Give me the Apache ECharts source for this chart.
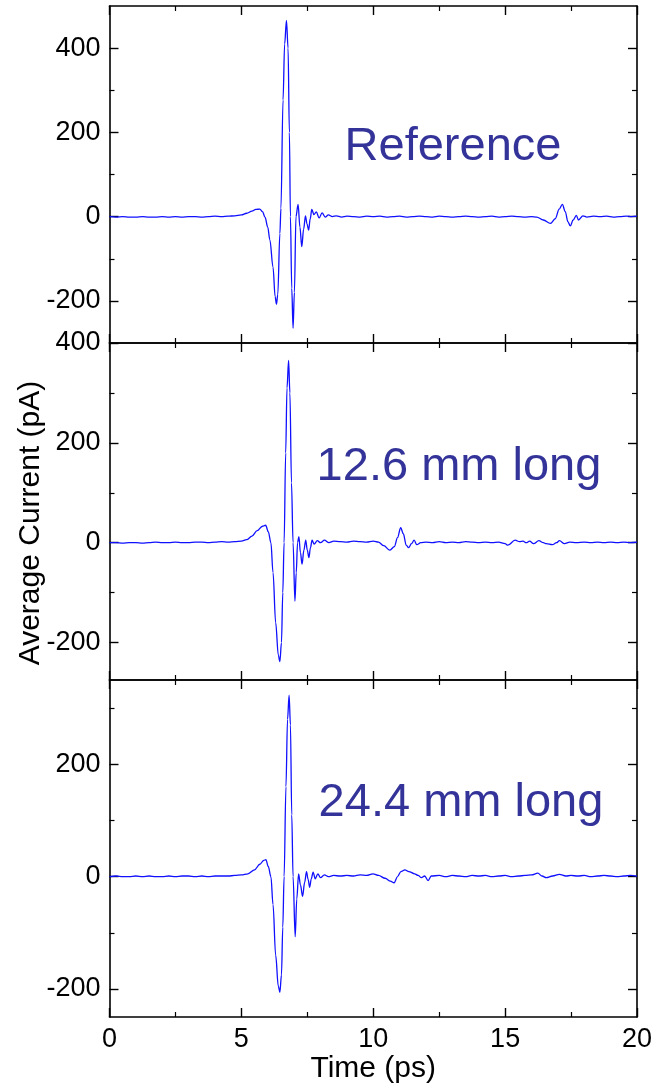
<!DOCTYPE html>
<html>
<head>
<meta charset="utf-8">
<script src="https://cdn.jsdelivr.net/npm/echarts@6/dist/echarts.min.js"></script>
<style>
  html, body { margin: 0; padding: 0; background: #fff; }
  #chart { width: 652px; height: 1084px; }
</style>
</head>
<body>
<div id="chart"></div>
<script>
// Time axis (ps) and tick labels
const timeRange = [0, 20];
const timeInterval = 5;

// Reference pulse
const refTime = [0, 0.25, 0.5, 0.75, 1, 1.25, 1.5, 1.75, 2, 2.25, 2.5, 2.75, 3, 3.25, 3.5, 3.75, 4, 4.25, 4.5,
  4.75, 5.0, 5.2, 5.4, 5.55, 5.7, 5.8, 5.9, 6.0, 6.08, 6.2, 6.28, 6.33, 6.38, 6.46, 6.5, 6.58, 6.64, 6.71, 6.77, 6.82, 6.86,
  6.91, 6.96, 7.01, 7.07, 7.15, 7.22, 7.29, 7.36, 7.43, 7.49, 7.55, 7.61, 7.67, 7.75, 7.84, 7.95, 8.06, 8.18, 8.3, 8.45,
  8.6, 8.8, 9.0, 9.25, 9.5, 9.75, 10, 10.25, 10.5, 10.75, 11, 11.25, 11.5, 11.75, 12, 12.25, 12.5, 12.75, 13, 13.25, 13.5,
  13.75, 14, 14.25, 14.5, 14.75, 15, 15.25, 15.5, 15.75, 16, 16.2, 16.45, 16.72, 16.9, 17.05, 17.17, 17.28, 17.38, 17.47,
  17.58, 17.7, 17.78, 17.95, 18.1, 18.35, 18.6, 18.85, 19.1, 19.35, 19.6, 19.8, 20];
const refCurrent = [0, -1, 0, -1, -1, 0, -1, -1, 0, -1, 0, -1, 0, 0, -1, 0, 1, 0, 1,
  2, 4, 8, 13, 17, 18, 12, -2, -25, -55, -120, -190, -208, -185, -40, 20, 277, 410, 466, 400, 200, 0,
  -170, -265, -180, 0, 29, -25, -71, -30, 2, -18, -32, -5, 17, 5, 11, -3, 9, -1, 4, 0,
  2, -1, 1, 0, -1, 1, 0, 1, -1, 0, 1, -1, 0, 1, 0, -1, 1, 0, -1, 0, 1,
  0, -1, 0, 1, -1, 0, 1, 0, -1, 0, -1, -8, -16, -5, 18, 29, 12, -12, -22,
  -8, 3, -8, 2, -1, 1, 0, 1, -1, 0, 1, 0, 1];

// 12.6 mm long
const midTime = [0, 0.25, 0.5, 0.75, 1, 1.25, 1.5, 1.75, 2, 2.25, 2.5, 2.75, 3, 3.25, 3.5, 3.75, 4, 4.25, 4.5, 4.75,
  5.0, 5.2, 5.4, 5.6, 5.8, 5.92, 6.02, 6.12, 6.2, 6.3, 6.4, 6.46, 6.52, 6.57, 6.62, 6.68, 6.73, 6.79, 6.84, 6.9, 6.96,
  7.03, 7.08, 7.13, 7.18, 7.24, 7.3, 7.37, 7.44, 7.5, 7.56, 7.62, 7.68, 7.76, 7.88, 8.0, 8.15, 8.32, 8.5, 8.75,
  9.0, 9.25, 9.5, 9.75, 10.0, 10.2, 10.4, 10.62, 10.8, 10.92, 11.04, 11.14, 11.25, 11.34, 11.45, 11.55, 11.65, 11.8,
  12.0, 12.25, 12.5, 12.75, 13.0, 13.25, 13.5, 13.75, 14.0, 14.25, 14.5, 14.75, 15.0, 15.1, 15.38, 15.55, 15.68, 15.8,
  15.93, 16.08, 16.28, 16.45, 16.56, 16.79, 16.95, 17.06, 17.25, 17.45, 17.7, 18.0, 18.25, 18.5, 18.75, 19.0, 19.25,
  19.5, 19.75, 20];
const midCurrent = [0, 0, -1, 0, 0, -1, 0, 1, 0, 0, 1, 0, 0, 1, 1, 0, 1, 2, 1, 2,
  3, 6, 13, 24, 33, 35, 22, 0, -60, -160, -225, -238, -200, -100, 0, 180, 310, 365, 300, 120, 0,
  -117, -60, 0, 12, -20, -43, -15, 5, -15, -30, -10, 5, -3, 4, 0, 5, 0, 3, 2,
  1, 3, 2, 1, 3, 1, -6, -15, -8, 10, 30, 18, -5, -10, -2, 5, -4, 0,
  1, 0, 2, 0, 1, 0, 2, 1, 0, 1, 0, 1, -2, -5, 5, 2, 3, 0,
  3, -2, 4, 0, -2, -4, 0, 4, -2, 1, 0, 1, 0, 1, 0, 1, 0,
  1, 0, 1];

// 24.4 mm long
const longTime = [0, 0.25, 0.5, 0.75, 1, 1.25, 1.5, 1.75, 2, 2.25, 2.5, 2.75, 3, 3.25, 3.5, 3.75, 4, 4.25, 4.5, 4.75,
  5.0, 5.25, 5.5, 5.7, 5.85, 5.93, 6.02, 6.12, 6.2, 6.3, 6.4, 6.46, 6.52, 6.57, 6.62, 6.69, 6.75, 6.81, 6.86, 6.91, 6.96,
  7.04, 7.1, 7.17, 7.24, 7.32, 7.4, 7.47, 7.53, 7.59, 7.65, 7.72, 7.8, 7.9, 8.0, 8.15, 8.3, 8.5, 8.75, 9.0, 9.25, 9.5,
  9.75, 9.99, 10.2, 10.45, 10.65, 10.79, 10.92, 11.05, 11.2, 11.35, 11.57, 11.7, 11.83, 11.95, 12.08, 12.2, 12.5, 12.75,
  13.0, 13.25, 13.5, 13.75, 14.0, 14.25, 14.5, 14.75, 15.0, 15.25, 15.5, 15.75, 16.0, 16.24, 16.4, 16.56, 16.8, 17.06,
  17.3, 17.5, 17.75, 18.0, 18.25, 18.5, 18.75, 19.0, 19.25, 19.5, 19.75, 20];
const longCurrent = [0, 1, 0, 0, 1, 0, 1, 0, 0, 1, 0, 1, 1, 0, 1, 0, 1, 1, 1, 2,
  3, 5, 12, 22, 29, 30, 18, 0, -50, -140, -195, -206, -175, -90, 0, 160, 280, 323, 270, 110, 0,
  -107, -40, 5, -15, -35, -10, 9, -5, -19, -4, 8, -4, 5, -2, 3, 0, 2, 1, 2, 1, 3,
  2, 5, 2, -3, -8, -11, 0, 9, 12, 9, 5, 2, -2, 1, -7, 1, 2, 0,
  2, 1, 0, 2, 1, 2, 0, 1, 2, 0, 1, 2, 3, 6, 1, -2, 1, 4,
  1, 2, 1, 2, 0, 1, 2, 1, 0, 1, 2, 1];

// Per-panel value ranges and y tick values (pA)
const refRange = [-300, 500];
const midRange = [-275, 400];
const longRange = [-250, 350];
const refMajorTicks = [-200, 0, 200, 400];
const midMajorTicks = [-200, 0, 200, 400];
const longMajorTicks = [-200, 0, 200];
const refMinorTicks = [-100, 100, 300];
const midMinorTicks = [-100, 100, 300];
const longMinorTicks = [-100, 100, 300];

const panelLabels = ['Reference', '12.6 mm long', '24.4 mm long'];

const panels = [
  { time: refTime, current: refCurrent, range: refRange, major: refMajorTicks, minor: refMinorTicks },
  { time: midTime, current: midCurrent, range: midRange, major: midMajorTicks, minor: midMinorTicks },
  { time: longTime, current: longCurrent, range: longRange, major: longMajorTicks, minor: longMinorTicks }
];

const FONT = '"Liberation Sans", Arial, Helvetica, sans-serif';
const INK = '#000';
const PLOT_LEFT = 109.5, PLOT_RIGHT = 15, PANEL_TOP = 6, PANEL_H = 337;
const AXIS_LINE = { show: true, onZero: false, lineStyle: { color: INK, width: 1.6 } };

const grid = [], xAxis = [], yAxis = [], series = [];

panels.forEach((p, i) => {
  grid.push({
    left: PLOT_LEFT, right: PLOT_RIGHT, top: PANEL_TOP + i * PANEL_H, height: PANEL_H,
    containLabel: false, outerBoundsMode: 'none'
  });
  const isLast = i === panels.length - 1;
  ['bottom', 'top'].forEach(pos => {
    xAxis.push({
      type: 'value', gridIndex: i, position: pos,
      min: timeRange[0], max: timeRange[1], interval: timeInterval,
      axisLine: AXIS_LINE,
      axisTick: { show: true, inside: true, length: 9, lineStyle: { color: INK, width: 1.4 } },
      minorTick: { show: true, splitNumber: 2, length: 5, lineStyle: { color: INK, width: 1.2 } },
      axisLabel: { show: isLast && pos === 'bottom', color: INK, fontSize: 27, fontFamily: FONT, margin: 9 },
      splitLine: { show: false },
      name: isLast && pos === 'bottom' ? 'Time (ps)' : '',
      nameLocation: 'middle', nameGap: 27,
      nameTextStyle: { color: INK, fontSize: 30, fontFamily: FONT }
    });
  });
  ['left', 'right'].forEach(pos => {
    // major ticks (with labels on the left)
    yAxis.push({
      type: 'value', gridIndex: i, position: pos,
      min: p.range[0], max: p.range[1],
      axisLine: AXIS_LINE,
      axisTick: { show: true, inside: true, length: 9, customValues: p.major, lineStyle: { color: INK, width: 1.4 } },
      axisLabel: { show: pos === 'left', customValues: p.major, color: INK, fontSize: 27, fontFamily: FONT, margin: 9 },
      splitLine: { show: false }
    });
    // minor ticks
    yAxis.push({
      type: 'value', gridIndex: i, position: pos,
      min: p.range[0], max: p.range[1],
      axisLine: { show: false, onZero: false },
      axisTick: { show: true, inside: true, length: 5, customValues: p.minor, lineStyle: { color: INK, width: 1.2 } },
      axisLabel: { show: false },
      splitLine: { show: false }
    });
  });
  series.push({
    type: 'line',
    xAxisIndex: i * 2,
    yAxisIndex: i * 4,
    data: p.time.map((t, k) => [t, p.current[k]]),
    showSymbol: false,
    smooth: 0.35,
    smoothMonotone: 'x',
    lineStyle: { color: '#1010ff', width: 1.3 },
    silent: true,
    animation: false
  });
});

const labelCentres = [[453, 147], [459, 467], [461, 803]];
const graphic = panelLabels.map((txt, i) => ({
  type: 'text',
  x: labelCentres[i][0], y: labelCentres[i][1],
  style: { text: txt, fill: '#333399', font: '47px ' + FONT, textAlign: 'center', textVerticalAlign: 'middle' },
  silent: true
}));
graphic.push({
  type: 'text', x: 31, y: 523, rotation: Math.PI / 2,
  style: { text: 'Average Current (pA)', fill: INK, font: '30px ' + FONT, textAlign: 'center', textVerticalAlign: 'middle' },
  silent: true
});

const chart = echarts.init(document.getElementById('chart'), null, { renderer: 'canvas' });
chart.setOption({ animation: false, backgroundColor: '#fff', grid, xAxis, yAxis, series, graphic });
</script>
</body>
</html>
